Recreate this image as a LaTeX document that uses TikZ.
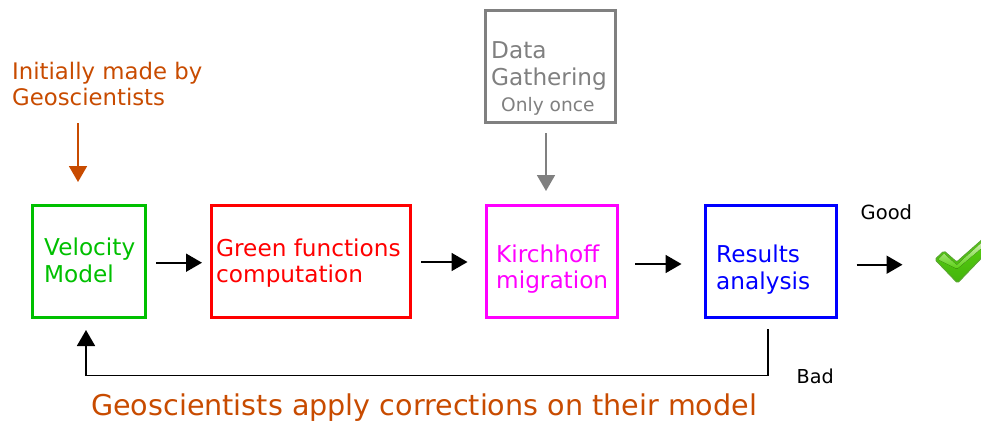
\documentclass[tikz,border=0pt]{standalone}
\usepackage{fontspec}
\setmainfont{DejaVu Sans}
\usetikzlibrary{arrows.meta}
\definecolor{rust}{HTML}{C84B00}
\definecolor{vgreen}{HTML}{00C000}
\definecolor{mag}{HTML}{FF00FF}
\definecolor{greyb}{HTML}{808080}
\definecolor{chkedge}{HTML}{5AA832}
\definecolor{chkdark}{HTML}{44B40C}
\definecolor{chkmid}{HTML}{58D010}
\definecolor{chklight}{HTML}{D8F4BC}
\tikzset{
  box/.style={draw=#1,line width=3.2pt,fill=white,inner sep=0pt,anchor=north west},
  lbl/.style={anchor=base west,inner sep=0pt,text=#1,font=\fontsize{23.2}{27}\selectfont},
  small/.style={anchor=base west,inner sep=0pt,font=\fontsize{18.6}{22}\selectfont},
  arr/.style={draw=#1,line width=1.8pt,-{Triangle[length=16pt,width=18pt]}}
}
\begin{document}
\begin{tikzpicture}[x=1pt,y=-1pt]
\useasboundingbox (0,0) rectangle (981,421);
\node[box=vgreen,minimum width=112.5pt,minimum height=112pt] (vel) at (31,204) {};
\node[box=red,minimum width=198.5pt,minimum height=112pt] (green) at (210,204) {};
\node[box=mag,minimum width=130.5pt,minimum height=112pt] (kir) at (485,204) {};
\node[box=blue,minimum width=130.5pt,minimum height=112pt] (res) at (704,204) {};
\node[box=greyb,minimum width=130.5pt,minimum height=112.5pt] (data) at (483.5,8.5) {};
\node[lbl=rust,font=\fontsize{22.8}{27}\selectfont] (init1) at (12,79) {Initially made by};
\node[lbl=rust,font=\fontsize{22.8}{27}\selectfont] (init2) at (12,105) {Geoscientists};
\node[lbl=vgreen] (v1) at (44,255) {Velocity};
\node[lbl=vgreen] (v2) at (44,282) {Model};
\node[lbl=red] (g1) at (216,256) {Green functions};
\node[lbl=red] (g2) at (216,282) {computation};
\node[lbl=mag] (k1) at (496,262) {Kirchhoff};
\node[lbl=mag] (k2) at (496,288) {migration};
\node[lbl=blue] (r1) at (716,262) {Results};
\node[lbl=blue] (r2) at (716,289) {analysis};
\node[lbl=greyb] (d1) at (491,58) {Data};
\node[lbl=greyb] (d2) at (491,85) {Gathering};
\node[small,text=greyb] (d3) at (501,111) {Only once};
\node[small,font=\fontsize{19.5}{22}\selectfont] (good) at (860.5,219.3) {Good};
\node[small,font=\fontsize{19.2}{22}\selectfont] (bad) at (796.5,383.3) {Bad};
\node[anchor=base west,inner sep=0pt,text=rust,font=\fontsize{28.6}{34}\selectfont] (corr) at (91,415) {Geoscientists apply corrections on their model};
\coordinate (a1) at (78,123); \coordinate (a2) at (78,182);
\coordinate (b1) at (546,133); \coordinate (b2) at (546,191);
\coordinate (c1) at (156,262.7); \coordinate (c2) at (202,262.7);
\coordinate (e1) at (421,262); \coordinate (e2) at (467.5,262);
\coordinate (f1) at (635,264); \coordinate (f2) at (681.5,264);
\coordinate (h1) at (856.7,264.7); \coordinate (h2) at (902.5,264.7);
\coordinate (i1) at (768,329); \coordinate (i2) at (768,375.5); \coordinate (i3) at (86,375.5); \coordinate (i4) at (86,330);
\draw[arr=rust] (a1) -- (a2);
\draw[arr=greyb] (b1) -- (b2);
\draw[arr=black] (c1) -- (c2);
\draw[arr=black] (e1) -- (e2);
\draw[arr=black] (f1) -- (f2);
\draw[arr=black] (h1) -- (h2);
\draw[arr=black] (i1) -- (i2) -- (i3) -- (i4);
\begin{scope}
\clip (900,230) rectangle (981,295);
\fill[top color=chkmid,bottom color=chkdark,draw=chkedge,line width=1pt,rounded corners=1.5pt]
 (935,259.5) -- (944,251) -- (956.7,262) -- (984,238) -- (992,247) -- (957.5,283) -- cycle;
\fill[top color=chklight,bottom color=chkmid,rounded corners=1pt] (938,259.5) -- (944,253.5) -- (956.7,265) -- (984,240.5) -- (984,246) -- (957,269) -- cycle;
\end{scope}
\end{tikzpicture}
\end{document}
